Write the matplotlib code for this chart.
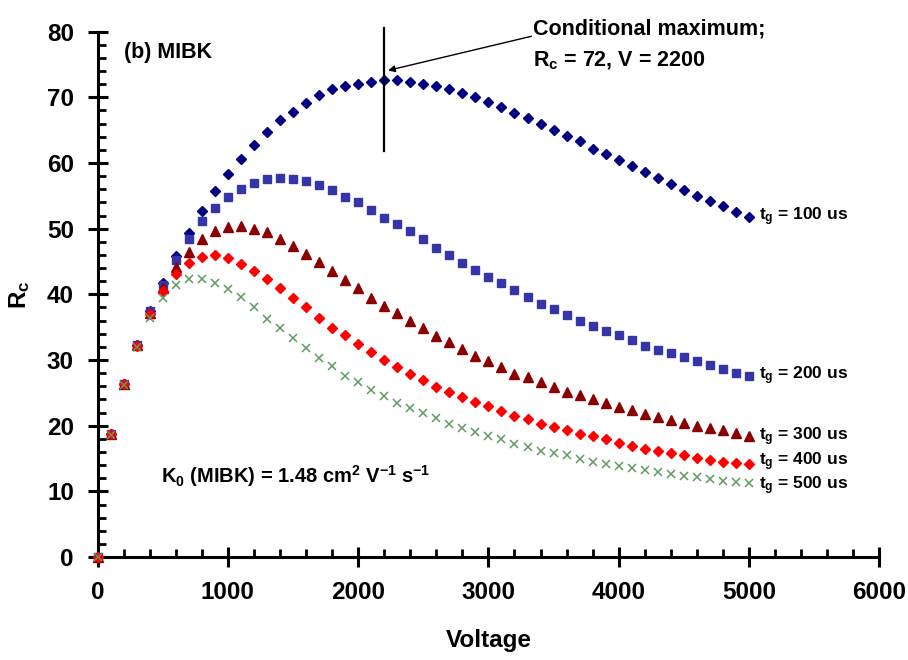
import matplotlib
matplotlib.use("Agg")
import matplotlib.pyplot as plt
from matplotlib.ticker import MultipleLocator

plt.rcParams['font.family'] = ['Liberation Sans', 'DejaVu Sans']
plt.rcParams['font.weight'] = 'bold'
plt.rcParams['mathtext.fontset'] = 'custom'
plt.rcParams['mathtext.rm'] = 'Liberation Sans:bold'
plt.rcParams['mathtext.it'] = 'Liberation Sans:bold'
plt.rcParams['mathtext.bf'] = 'Liberation Sans:bold'

voltage = list(range(0, 5001, 100))

rc_100 = [0, 18.8, 26.4, 32.3, 37.4, 41.8, 45.8, 49.4, 52.7, 55.7, 58.3, 60.6, 62.8, 64.7,
          66.5, 67.8, 69.1, 70.3, 71.2, 71.7, 72.1, 72.4, 72.6, 72.6, 72.4, 72.1, 71.7, 71.3,
          70.7, 70.0, 69.3, 68.5, 67.6, 66.9, 65.9, 65.0, 64.1, 63.3, 62.2, 61.4, 60.4, 59.5,
          58.7, 57.7, 56.8, 55.9, 55.0, 54.2, 53.4, 52.6, 51.8]
rc_200 = [0, 18.8, 26.4, 32.3, 37.4, 41.5, 45.3, 48.5, 51.2, 53.1, 54.9, 56.1, 57.0, 57.6,
          57.7, 57.6, 57.2, 56.7, 55.9, 54.9, 54.0, 52.9, 51.7, 50.7, 49.6, 48.4, 47.1, 46.0,
          44.8, 43.7, 42.7, 41.7, 40.7, 39.6, 38.6, 37.8, 36.9, 36.0, 35.2, 34.4, 33.8, 33.0,
          32.2, 31.6, 31.0, 30.4, 29.8, 29.2, 28.7, 28.0, 27.6]
rc_300 = [0, 18.8, 26.4, 32.3, 37.2, 41.0, 44.1, 46.5, 48.4, 49.6, 50.2, 50.4, 50.0, 49.5,
          48.5, 47.4, 46.1, 44.9, 43.6, 42.2, 40.9, 39.4, 38.3, 37.2, 36.0, 34.9, 33.7, 32.7,
          31.7, 30.6, 29.9, 28.9, 27.9, 27.4, 26.7, 25.9, 25.2, 24.6, 24.1, 23.5, 22.9, 22.4,
          21.8, 21.4, 20.8, 20.4, 20.0, 19.6, 19.3, 18.9, 18.5]
rc_400 = [0, 18.8, 26.4, 32.2, 37.0, 40.5, 43.1, 44.7, 45.7, 46.0, 45.5, 44.6, 43.6, 42.3,
          40.9, 39.5, 38.0, 36.4, 34.9, 33.8, 32.5, 31.2, 30.0, 29.0, 27.9, 26.9, 25.9, 25.1,
          24.4, 23.6, 23.0, 22.2, 21.5, 21.0, 20.3, 19.8, 19.3, 18.7, 18.4, 17.9, 17.4, 16.9,
          16.5, 16.2, 15.9, 15.6, 15.1, 14.8, 14.5, 14.3, 14.2]
rc_500 = [0, 18.6, 26.2, 32.0, 36.4, 39.4, 41.4, 42.4, 42.4, 41.8, 40.8, 39.6, 38.0, 36.3,
          34.9, 33.3, 31.8, 30.3, 29.1, 27.6, 26.7, 25.5, 24.5, 23.5, 22.7, 21.9, 21.2, 20.3,
          19.6, 19.0, 18.4, 17.9, 17.2, 16.8, 16.2, 15.8, 15.5, 15.0, 14.5, 14.2, 13.8, 13.5,
          13.2, 12.9, 12.6, 12.4, 12.2, 11.9, 11.6, 11.4, 11.2]

series_labels = ["t$_g$ = 100 us", "t$_g$ = 200 us", "t$_g$ = 300 us",
                 "t$_g$ = 400 us", "t$_g$ = 500 us"]
label_y = [51.8, 27.6, 18.4, 14.5, 10.8]

max_v = 2200
max_rc = 72

fig = plt.figure(figsize=(9.08, 6.6), dpi=100)
ax = fig.add_axes([0.1074, 0.156, 0.861, 0.796])

styles = [
    dict(marker='D', color='#000080', ms=5.2, ls='none'),
    dict(marker='s', color='#3535A8', ms=6.3, ls='none'),
    dict(marker='^', color='#8B0000', ms=7, ls='none'),
    dict(marker='D', color='#FF0000', ms=5.2, ls='none'),
    dict(marker='x', color='#5E9A5E', ms=6, mew=1.1, ls='none'),
]
all_series = [rc_100, rc_200, rc_300, rc_400, rc_500]
for ys, st in zip(all_series, styles):
    ax.plot(voltage, ys, clip_on=False, zorder=3, **st)

for lab, ly in zip(series_labels, label_y):
    ax.text(5080, ly, lab, fontsize=12.5, fontweight='bold', va='center', ha='left')

# conditional maximum marker
ax.plot([max_v, max_v], [61.8, 80.5], color='black', lw=1.6, clip_on=False, zorder=4)
ax.annotate("", xy=(2230, 74.1), xytext=(3330, 79.3),
            arrowprops=dict(arrowstyle='-|>', color='black', lw=1.0,
                            mutation_scale=10, shrinkA=0, shrinkB=0))
ax.text(3345, 79.5, "Conditional maximum;", fontsize=15.5, fontweight='bold',
        ha='left', va='baseline')
ax.text(3345, 74.7, "R$_c$ = %d, V = %d" % (max_rc, max_v), fontsize=15.5,
        fontweight='bold', ha='left', va='baseline')

ax.text(200, 76.0, "(b) MIBK", fontsize=15.5, fontweight='bold', ha='left', va='baseline')
ax.text(490, 11.3, "K$_0$ (MIBK) = 1.48 cm$^2$ V$^{-1}$ s$^{-1}$", fontsize=14.5,
        fontweight='bold', ha='left', va='baseline')

ax.set_xlim(0, 6000)
ax.set_ylim(0, 80)
ax.xaxis.set_major_locator(MultipleLocator(1000))
ax.xaxis.set_minor_locator(MultipleLocator(200))
ax.yaxis.set_major_locator(MultipleLocator(10))
ax.yaxis.set_minor_locator(MultipleLocator(2))

for s in ['top', 'right']:
    ax.spines[s].set_visible(False)
for s in ['left', 'bottom']:
    ax.spines[s].set_linewidth(2.2)

ax.tick_params(which='major', direction='inout', length=14, width=2.2, pad=10)
ax.tick_params(which='minor', direction='in', length=6, width=2.0)
ax.tick_params(axis='both', which='major', labelsize=17.5)
for lab in ax.get_xticklabels() + ax.get_yticklabels():
    lab.set_fontweight('bold')

ax.set_xlabel("Voltage", fontsize=17.5, fontweight='bold', labelpad=18)
ax.set_ylabel("R$_c$", fontsize=17.5, fontweight='bold')
ax.yaxis.set_label_coords(-0.084, 0.5)

fig.savefig("out.png", dpi=100)
